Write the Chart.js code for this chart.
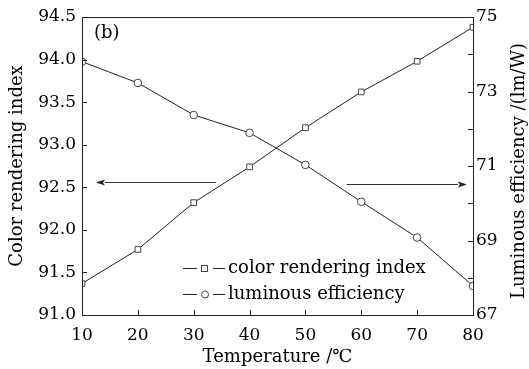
<!DOCTYPE html>
<html>
<head>
<meta charset="utf-8">
<script src="https://cdn.jsdelivr.net/npm/chart.js@4/dist/chart.umd.min.js"></script>
<style>
  html, body { margin: 0; padding: 0; background: #fff; }
  #wrap { width: 529px; height: 369px; position: relative; }
</style>
</head>
<body>
<div id="wrap"><canvas id="c"></canvas></div>
<script>
// ---- data ----
const temperature = [10, 20, 30, 40, 50, 60, 70, 80];
const colorRenderingIndex = [91.37, 91.77, 92.32, 92.74, 93.20, 93.62, 93.98, 94.38];
const luminousEfficiency = [73.80, 73.23, 72.37, 71.89, 71.03, 70.04, 69.08, 67.78];
const seriesLabels = ['color rendering index', 'luminous efficiency'];
const rightTickLabels = [67, 69, 71, 73, 75];
const rightAxisTitle = 'Luminous efficiency /(lm/W)';
// arrows in data units: [xFrom, xTo, yValue, axis]
const arrowLeft = [34, 12.5, 92.56, 'y'];
const arrowRight = [57.4, 78.9, 70.52, 'y1'];

const FONT = "'DejaVu Serif', serif";
const INK = '#222';
const TXT = '#000';

function toXY(xs, ys) { return xs.map((x, i) => ({ x: x, y: ys[i] })); }

const decor = {
  id: 'decor',
  afterDatasetsDraw(chart) {
    const ctx = chart.ctx;
    const a = chart.chartArea;
    const sx = chart.scales.x, sy = chart.scales.y, sy1 = chart.scales.y1;
    ctx.save();
    ctx.strokeStyle = INK;
    ctx.lineWidth = 1;
    // frame
    ctx.strokeRect(Math.round(a.left) + 0.5, Math.round(a.top) + 0.5, Math.round(a.right - a.left), Math.round(a.bottom - a.top));
    // inward ticks
    const TL = 5;
    ctx.beginPath();
    for (let v = 20; v <= 70; v += 10) {
      const px = Math.round(sx.getPixelForValue(v)) + 0.5;
      ctx.moveTo(px, a.bottom); ctx.lineTo(px, a.bottom - TL);
    }
    for (let v = 91.5; v <= 94.01; v += 0.5) {
      const py = Math.round(sy.getPixelForValue(v)) + 0.5;
      ctx.moveTo(a.left, py); ctx.lineTo(a.left + TL, py);
    }
    for (let v = 68; v <= 74; v += 1) {
      const py = Math.round(sy1.getPixelForValue(v)) + 0.5;
      ctx.moveTo(a.right, py); ctx.lineTo(a.right - TL, py);
    }
    ctx.stroke();

    // arrows
    function arrow(spec) {
      const sc = chart.scales[spec[3]];
      const x0 = sx.getPixelForValue(spec[0]);
      const x1 = sx.getPixelForValue(spec[1]);
      const y = Math.round(sc.getPixelForValue(spec[2])) + 0.5;
      const dir = Math.sign(x1 - x0);
      const hl = 9, hw = 3;
      ctx.strokeStyle = '#333';
      ctx.beginPath();
      ctx.moveTo(x0, y); ctx.lineTo(x1 - dir * hl, y);
      ctx.stroke();
      ctx.fillStyle = '#222';
      ctx.beginPath();
      ctx.moveTo(x1, y);
      ctx.lineTo(x1 - dir * hl, y - hw);
      ctx.lineTo(x1 - dir * hl + dir * 2, y);
      ctx.lineTo(x1 - dir * hl, y + hw);
      ctx.closePath();
      ctx.fill();
    }
    arrow(arrowLeft);
    arrow(arrowRight);

    // panel label
    ctx.fillStyle = TXT;
    ctx.font = '18px ' + FONT;
    ctx.textBaseline = 'middle';
    ctx.textAlign = 'left';
    ctx.fillText('(b)', a.left + 12, a.top + 16);

    // legend
    const lx = 183;
    const rows = [268, 294];
    chart.data.datasets.forEach((ds, i) => {
      const y = rows[i] + 0.5;
      ctx.strokeStyle = INK;
      ctx.lineWidth = 1;
      ctx.beginPath();
      ctx.moveTo(lx, y); ctx.lineTo(lx + 14, y);
      ctx.moveTo(lx + 30, y); ctx.lineTo(lx + 42, y);
      ctx.stroke();
      ctx.fillStyle = '#fff';
      ctx.strokeStyle = '#444';
      if (ds.pointStyle === 'rect') {
        ctx.fillRect(lx + 19, y - 3, 6, 6);
        ctx.strokeRect(lx + 18.5, y - 3, 6, 6);
      } else {
        ctx.beginPath();
        ctx.arc(lx + 22, y, 3.5, 0, Math.PI * 2);
        ctx.fill(); ctx.stroke();
      }
      ctx.fillStyle = TXT;
      ctx.font = '18px ' + FONT;
      ctx.textAlign = 'left';
      ctx.textBaseline = 'middle';
      ctx.fillText(ds.label, lx + 45, rows[i]);
    });

    // right axis title (reads bottom to top)
    ctx.save();
    ctx.translate(519, (a.top + a.bottom) / 2 + 5);
    ctx.rotate(-Math.PI / 2);
    ctx.fillStyle = TXT;
    ctx.font = '18px ' + FONT;
    ctx.textAlign = 'center';
    ctx.textBaseline = 'middle';
    ctx.fillText(rightAxisTitle, 0, 0);
    ctx.restore();

    ctx.restore();
  }
};

new Chart(document.getElementById('c'), {
  type: 'line',
  data: {
    datasets: [
      {
        label: seriesLabels[0],
        data: toXY(temperature, colorRenderingIndex),
        yAxisID: 'y',
        borderColor: INK,
        borderWidth: 1,
        pointStyle: 'rect',
        pointRadius: 4,
        pointBackgroundColor: '#fff',
        pointBorderColor: '#444',
        pointBorderWidth: 1,
        tension: 0
      },
      {
        label: seriesLabels[1],
        data: toXY(temperature, luminousEfficiency),
        yAxisID: 'y1',
        borderColor: INK,
        borderWidth: 1,
        pointStyle: 'circle',
        pointRadius: 3.8,
        pointBackgroundColor: '#fff',
        pointBorderColor: '#444',
        pointBorderWidth: 1,
        tension: 0
      }
    ]
  },
  options: {
    responsive: true,
    maintainAspectRatio: false,
    animation: false,
    layout: { padding: { top: 17, left: 0, right: 0, bottom: 0 } },
    plugins: { legend: { display: false }, tooltip: { enabled: false } },
    scales: {
      x: {
        type: 'linear',
        min: 10, max: 80,
        grid: { display: false, drawTicks: false },
        border: { display: false },
        ticks: { stepSize: 10, padding: 10, color: TXT, font: { family: FONT, size: 17 }, maxRotation: 0, autoSkip: false },
        title: { display: true, text: 'Temperature /℃', color: TXT, font: { family: FONT, size: 18 }, padding: { top: 0, bottom: 1 } },
        afterFit(s) { s.height = 54; }
      },
      y: {
        position: 'left',
        min: 91, max: 94.5,
        grid: { display: false, drawTicks: false },
        border: { display: false },
        ticks: { stepSize: 0.5, padding: 6, color: TXT, font: { family: FONT, size: 17 }, autoSkip: false,
                 callback: v => Number(v).toFixed(1) },
        title: { display: true, text: 'Color rendering index', color: TXT, font: { family: FONT, size: 18 }, padding: { top: 7, bottom: 0 } },
        afterFit(s) { s.width = 82; }
      },
      y1: {
        position: 'right',
        min: 67, max: 75,
        grid: { display: false, drawTicks: false },
        border: { display: false },
        ticks: { stepSize: 2, padding: 3, color: TXT, font: { family: FONT, size: 17 }, autoSkip: false,
                 callback: v => rightTickLabels.includes(v) ? String(v) : '' },
        title: { display: false },
        afterFit(s) { s.width = 56; }
      }
    }
  },
  plugins: [decor]
});
</script>
</body>
</html>
